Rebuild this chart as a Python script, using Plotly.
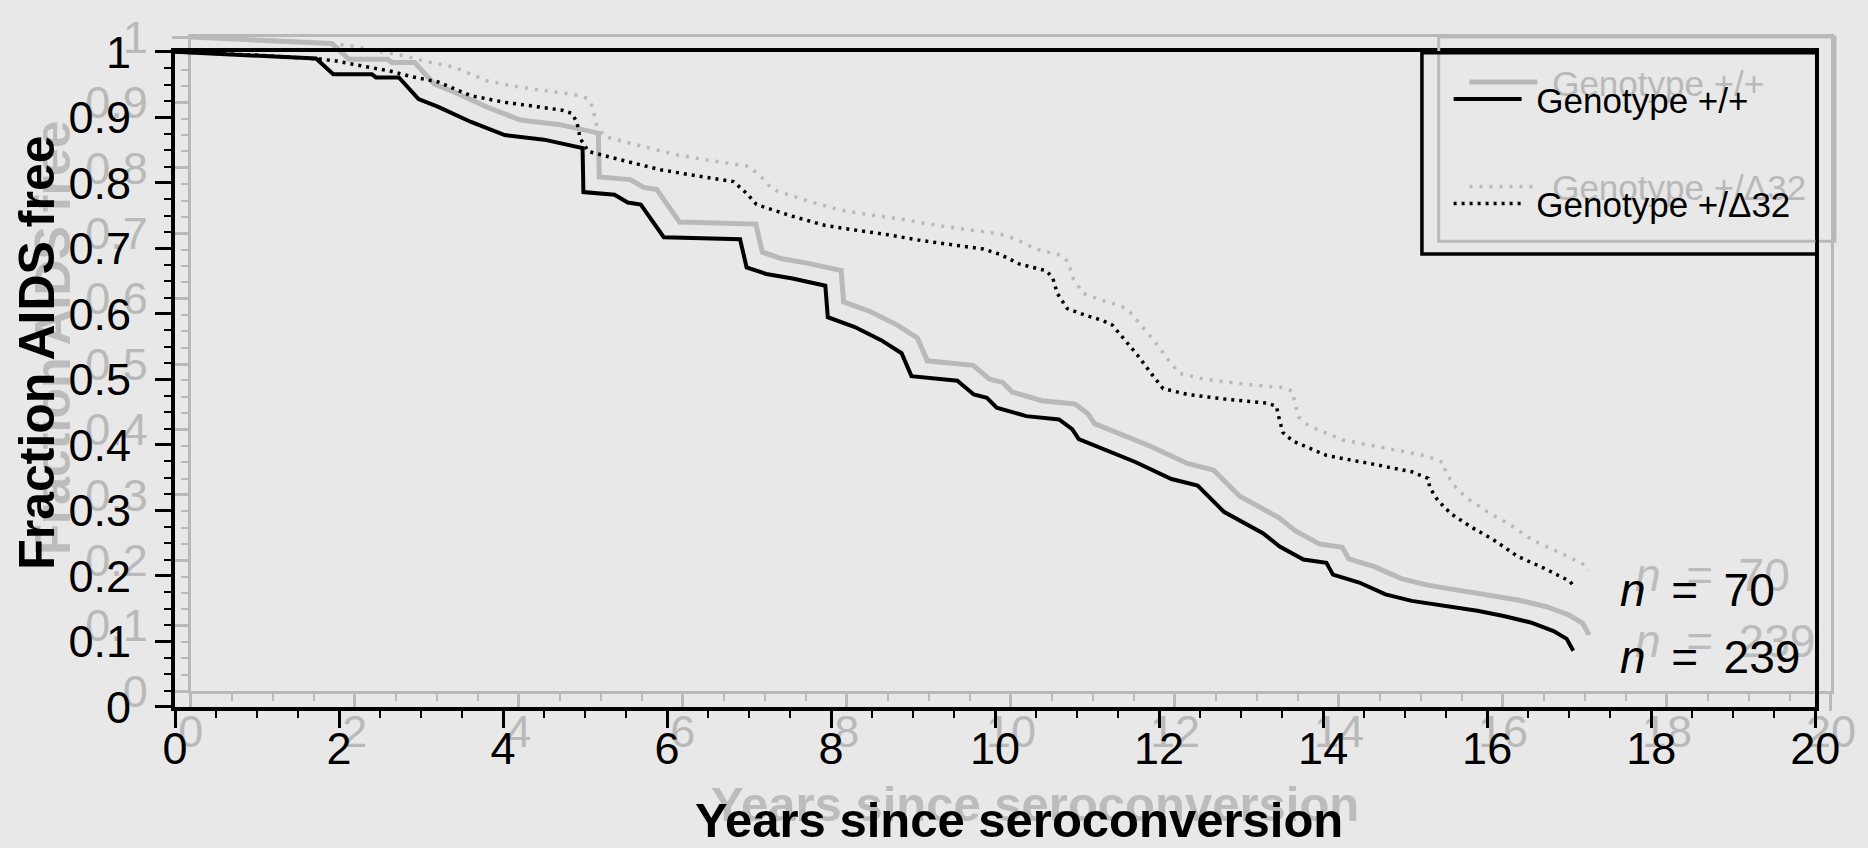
import plotly.graph_objects as go

# ---------------- data ----------------
wt_x = [0, 0.6, 1.2, 1.72, 1.93, 2.40, 2.45, 2.73, 2.97, 3.21, 3.61, 4.02, 4.50, 4.72, 4.97,
        4.98, 5.36, 5.52, 5.68, 5.96, 6.89, 6.97, 7.21, 7.53, 7.93, 7.96, 8.29, 8.61, 8.86,
        8.98, 9.54, 9.74, 9.90, 10.02, 10.38, 10.78, 10.94, 11.02, 11.31, 11.71, 12.15,
        12.47, 12.79, 13.07, 13.27, 13.47, 13.76, 14.04, 14.12, 14.44, 14.76, 15.08, 15.48,
        15.88, 16.20, 16.53, 16.81, 16.97, 17.05]
wt_y = [1.0, 0.997, 0.993, 0.990, 0.966, 0.966, 0.961, 0.961, 0.928, 0.916, 0.893, 0.873,
        0.866, 0.860, 0.853, 0.786, 0.782, 0.770, 0.767, 0.717, 0.714, 0.671, 0.661, 0.654,
        0.643, 0.595, 0.580, 0.560, 0.540, 0.505, 0.498, 0.477, 0.472, 0.457, 0.444, 0.439,
        0.424, 0.409, 0.394, 0.374, 0.348, 0.338, 0.298, 0.278, 0.265, 0.245, 0.225, 0.220,
        0.202, 0.190, 0.172, 0.162, 0.154, 0.147, 0.139, 0.129, 0.116, 0.104, 0.086]

d32_x = [0, 1.0, 1.77, 1.97, 2.17, 2.41, 2.61, 2.89, 3.21, 3.61, 4.02, 4.32, 4.72, 4.84,
         4.90, 4.94, 5.04, 5.44, 5.92, 6.40, 6.81, 6.97, 7.09, 7.53, 7.93, 8.29, 8.69, 9.10,
         9.50, 9.86, 10.06, 10.30, 10.62, 10.70, 10.76, 10.88, 11.10, 11.31, 11.43, 11.59,
         11.75, 11.91, 12.05, 12.35, 12.87, 13.31, 13.43, 13.47, 13.51, 13.63, 14.04, 14.68,
         15.08, 15.28, 15.30, 15.40, 15.56, 15.80, 16.08, 16.37, 16.69, 17.01, 17.05]
d32_y = [1.0, 0.995, 0.989, 0.986, 0.981, 0.976, 0.971, 0.962, 0.954, 0.933, 0.923, 0.918,
         0.911, 0.906, 0.893, 0.868, 0.848, 0.835, 0.820, 0.810, 0.802, 0.784, 0.767, 0.749,
         0.735, 0.728, 0.721, 0.712, 0.705, 0.699, 0.691, 0.676, 0.666, 0.656, 0.631, 0.608,
         0.598, 0.590, 0.583, 0.560, 0.535, 0.508, 0.486, 0.477, 0.469, 0.464, 0.459, 0.437,
         0.419, 0.406, 0.384, 0.369, 0.359, 0.349, 0.335, 0.315, 0.295, 0.275, 0.255, 0.230,
         0.212, 0.192, 0.185]

series_names = ["Genotype +/+", "Genotype +/\u039432"]
x_tick_vals = [0, 2, 4, 6, 8, 10, 12, 14, 16, 18, 20]
x_tick_text = ["0", "2", "4", "6", "8", "10", "12", "14", "16", "18", "20"]
y_tick_vals = [0, 0.1, 0.2, 0.3, 0.4, 0.5, 0.6, 0.7, 0.8, 0.9, 1.0]
y_tick_text = ["0", "0.1", "0.2", "0.3", "0.4", "0.5", "0.6", "0.7", "0.8", "0.9", "1"]
n_labels = ["<i>n</i>\u00a0\u00a0=\u00a0\u00a070", "<i>n</i>\u00a0\u00a0=\u00a0\u00a0239"]
n_label_y = [0.178, 0.076]
n_label_x = 17.59
x_title = "Years since seroconversion"
y_title = "Fraction AIDS free"

# ---------------- layout geometry ----------------
W, H = 1868, 848
L, R, T, B = 175, 17, 31, 141
PW = W - L - R      # 1676
PH = H - T - B      # 676
MW, MH = 1660, 661  # main plot box size in px
DX, DY = 16, 16     # offset of the grey "ghost" print


def pxx(xp):
    return (xp - L) / PW


def pxy(yp):
    return (H - B - yp) / PH


FONT = "Liberation Sans, Arial, Helvetica, sans-serif"
BLACK = "#000000"
GHOST = "#b9b9b9"
GHOST_TXT = "#bcbcbc"
BG = "#e8e8e8"

fig = go.Figure()

# ghost traces (subplot xy, drawn first -> underneath)
fig.add_trace(go.Scatter(x=wt_x, y=wt_y, mode="lines", name="\u00a0" + series_names[0],
                         line=dict(color=GHOST, width=5), xaxis="x", yaxis="y",
                         legend="legend", legendgroup="g1", hoverinfo="skip"))
fig.add_trace(go.Scatter(x=d32_x, y=d32_y, mode="lines", name="\u00a0" + series_names[1],
                         line=dict(color=GHOST, width=3.5, dash="3px,7px"), xaxis="x", yaxis="y",
                         legend="legend", legendgroup="g2", hoverinfo="skip"))
# main black traces
fig.add_trace(go.Scatter(x=wt_x, y=wt_y, mode="lines", name="\u00a0" + series_names[0],
                         line=dict(color=BLACK, width=4), xaxis="x2", yaxis="y2",
                         legend="legend2", legendgroup="b1"))
fig.add_trace(go.Scatter(x=d32_x, y=d32_y, mode="lines", name="\u00a0" + series_names[1],
                         line=dict(color=BLACK, width=3.5, dash="3px,5px"), xaxis="x2",
                         yaxis="y2", legend="legend2", legendgroup="b2"))


def xaxis_style(color, domain, anchor, lw):
    return dict(range=[0, 20], domain=domain, anchor=anchor, tickvals=x_tick_vals,
                ticktext=x_tick_text, ticks="outside", ticklen=17, tickwidth=3,
                tickcolor=color, showline=True, linewidth=lw, linecolor=color, mirror=True,
                showgrid=False, zeroline=False, ticklabelstandoff=-18,
                tickfont=dict(size=45, color=color, family=FONT),
                minor=dict(dtick=0.5, ticks="outside", ticklen=7, tickwidth=2,
                           tickcolor=color, showgrid=False))


def yaxis_style(color, domain, anchor, lw):
    return dict(range=[0, 1], domain=domain, anchor=anchor, tickvals=y_tick_vals,
                ticktext=y_tick_text, ticks="outside", ticklen=16, tickwidth=3,
                tickcolor=color, showline=True, linewidth=lw, linecolor=color, mirror=True,
                showgrid=False, zeroline=False, ticklabelstandoff=15,
                tickfont=dict(size=45, color=color, family=FONT),
                minor=dict(dtick=0.025, ticks="outside", ticklen=7, tickwidth=2,
                           tickcolor=color, showgrid=False))


ghost_xdom = [DX / PW, 1]
ghost_ydom = [DY / PH, 1]
main_xdom = [0, MW / PW]
main_ydom = [0, MH / PH]

annotations = []
# ghost texts
annotations.append(dict(xref="paper", yref="paper", x=pxx(1029 + DX), y=pxy(821 - DY),
                        text="<b>" + x_title + "</b>", showarrow=False, xanchor="center",
                        yanchor="middle", font=dict(size=49, color=GHOST_TXT, family=FONT)))
annotations.append(dict(xref="paper", yref="paper", x=pxx(36 + DX), y=pxy(350 - DY),
                        text="<b>" + y_title + "</b>", showarrow=False, textangle=-90,
                        xanchor="center", yanchor="middle",
                        font=dict(size=50, color=GHOST_TXT, family=FONT)))
for t, yv in zip(n_labels, n_label_y):
    annotations.append(dict(xref="x", yref="y", x=n_label_x, y=yv, text=t, showarrow=False,
                            xanchor="left", yanchor="middle",
                            font=dict(size=46, color=GHOST_TXT, family=FONT)))
# main texts
annotations.append(dict(xref="paper", yref="paper", x=pxx(1029), y=pxy(821),
                        text="<b>" + x_title + "</b>", showarrow=False, xanchor="center",
                        yanchor="middle", font=dict(size=49, color=BLACK, family=FONT)))
annotations.append(dict(xref="paper", yref="paper", x=pxx(36), y=pxy(350),
                        text="<b>" + y_title + "</b>", showarrow=False, textangle=-90,
                        xanchor="center", yanchor="middle",
                        font=dict(size=50, color=BLACK, family=FONT)))
for t, yv in zip(n_labels, n_label_y):
    annotations.append(dict(xref="x2", yref="y2", x=n_label_x, y=yv, text=t, showarrow=False,
                            xanchor="left", yanchor="middle",
                            font=dict(size=46, color=BLACK, family=FONT)))

# legend frames
shapes = [
    dict(type="rect", xref="paper", yref="paper", x0=pxx(1437 + 17), x1=pxx(1837 + 18),
         y0=pxy(250 - 13), y1=pxy(47 - 16), line=dict(color=GHOST, width=3),
         fillcolor="rgba(0,0,0,0)", layer="above"),
    dict(type="rect", xref="paper", yref="paper", x0=pxx(1437), x1=pxx(1837),
         y0=pxy(250), y1=pxy(47), line=dict(color=BLACK, width=3.5),
         fillcolor="rgba(0,0,0,0)", layer="above"),
]


def legend_style(color, x, y):
    return dict(x=x, y=y, xanchor="left", yanchor="top", bgcolor="rgba(0,0,0,0)",
                borderwidth=0, tracegroupgap=56, itemwidth=68,
                font=dict(size=35, color=color, family=FONT))


fig.update_layout(
    width=W, height=H,
    margin=dict(l=L, r=R, t=T, b=B, pad=0),
    paper_bgcolor=BG, plot_bgcolor="rgba(0,0,0,0)",
    showlegend=True,
    xaxis=xaxis_style(GHOST, ghost_xdom, "y", 3),
    yaxis=yaxis_style(GHOST, ghost_ydom, "x", 3),
    xaxis2=xaxis_style(BLACK, main_xdom, "y2", 4),
    yaxis2=yaxis_style(BLACK, main_ydom, "x2", 4),
    legend=legend_style(GHOST, pxx(1464 + DX), pxy(64 - 17)),
    legend2=legend_style(BLACK, pxx(1464), pxy(64)),
    annotations=annotations,
    shapes=shapes,
    font=dict(family=FONT, color=BLACK),
)

# remove the default 8px page margin so the figure fills the window exactly
page_fix = ("document.body.style.margin='0px';"
            "document.body.style.backgroundColor='" + BG + "';")
fig.write_html("out.html", post_script=page_fix, config={"displayModeBar": False})
